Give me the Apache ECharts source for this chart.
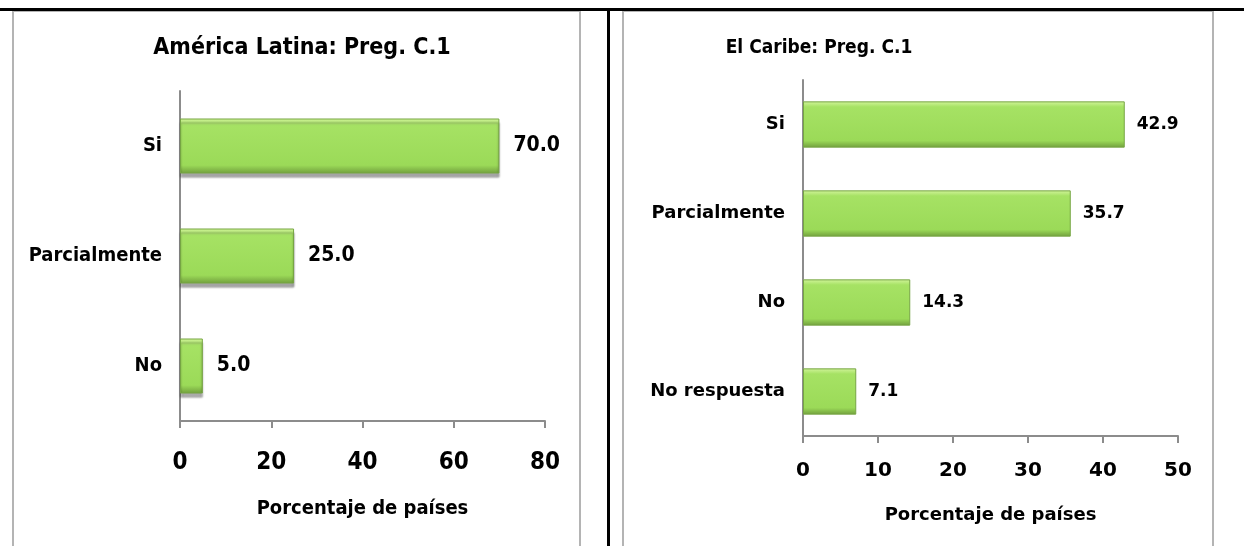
<!DOCTYPE html>
<html>
<head>
<meta charset="utf-8">
<script src="https://cdn.jsdelivr.net/npm/echarts@6/dist/echarts.min.js"></script>
<style>
  html, body { margin: 0; padding: 0; background: #fff; }
  #chart { width: 1244px; height: 546px; }
</style>
</head>
<body>
<div id="chart"></div>
<script>
// data
const latamCategories = ['Si', 'Parcialmente', 'No']
const latamValues = [70.0, 25.0, 5.0]
const caribeCategories = ['Si', 'Parcialmente', 'No', 'No respuesta']
const caribeValues = [42.9, 35.7, 14.3, 7.1]
const latamTitle = 'América Latina: Preg. C.1'
const caribeTitle = 'El Caribe: Preg. C.1'
const axisTitle = 'Porcentaje de países'

const narrow = '"DejaVu Sans Condensed", "Liberation Sans Narrow", sans-serif'
const wide = '"DejaVu Sans", sans-serif'

const barFill = new echarts.graphic.LinearGradient(0, 0, 0, 1, [
  { offset: 0, color: '#d3f59c' },
  { offset: 0.12, color: '#a6e264' },
  { offset: 0.85, color: '#9bda58' },
  { offset: 1, color: '#719f3d' }
])

const axisLine = { show: true, lineStyle: { color: '#8c8c8c', width: 2 } }

const chart = echarts.init(document.getElementById('chart'))
chart.setOption({
  animation: false,
  backgroundColor: '#fff',
  title: [
    {
      text: latamTitle,
      left: 297, top: 32, textAlign: 'center',
      textStyle: { fontFamily: narrow, fontWeight: 'bold', fontSize: 23, color: '#000' }
    },
    {
      text: caribeTitle,
      left: 814, top: 34, textAlign: 'center',
      textStyle: { fontFamily: narrow, fontWeight: 'bold', fontSize: 19, color: '#000' }
    }
  ],
  graphic: [
    { type: 'rect', shape: { x: 13, y: 11, width: 567, height: 560 }, style: { fill: 'none', stroke: '#b4b4b4', lineWidth: 2 } },
    { type: 'rect', shape: { x: 623, y: 11, width: 590, height: 560 }, style: { fill: 'none', stroke: '#b4b4b4', lineWidth: 2 } },
    { type: 'rect', shape: { x: 0, y: 8, width: 1244, height: 3 }, style: { fill: '#000' } },
    { type: 'rect', shape: { x: 607, y: 8, width: 3, height: 540 }, style: { fill: '#000' } }
  ],
  grid: [
    { left: 180, top: 91, width: 365, height: 330 },
    { left: 803, top: 80, width: 375, height: 356 }
  ],
  xAxis: [
    {
      gridIndex: 0, type: 'value', min: 0, max: 80, interval: 20,
      axisLine: axisLine,
      axisTick: { show: true, length: 7, lineStyle: { color: '#8c8c8c', width: 2 } },
      splitLine: { show: false },
      axisLabel: { margin: 30, fontFamily: narrow, fontWeight: 'bold', fontSize: 24, color: '#000' },
      name: axisTitle, nameLocation: 'middle', nameGap: 78,
      nameTextStyle: { fontFamily: narrow, fontWeight: 'bold', fontSize: 20, color: '#000' }
    },
    {
      gridIndex: 1, type: 'value', min: 0, max: 50, interval: 10,
      axisLine: axisLine,
      axisTick: { show: true, length: 7, lineStyle: { color: '#8c8c8c', width: 2 } },
      splitLine: { show: false },
      axisLabel: { margin: 25, fontFamily: wide, fontWeight: 'bold', fontSize: 20, color: '#000' },
      name: axisTitle, nameLocation: 'middle', nameGap: 70,
      nameTextStyle: { fontFamily: wide, fontWeight: 'bold', fontSize: 18, color: '#000' }
    }
  ],
  yAxis: [
    {
      gridIndex: 0, type: 'category', inverse: true, data: latamCategories,
      axisLine: axisLine, axisTick: { show: false },
      axisLabel: { margin: 18, fontFamily: narrow, fontWeight: 'bold', fontSize: 20, color: '#000' }
    },
    {
      gridIndex: 1, type: 'category', inverse: true, data: caribeCategories,
      axisLine: axisLine, axisTick: { show: false },
      axisLabel: { margin: 18, fontFamily: wide, fontWeight: 'bold', fontSize: 18, color: '#000' }
    }
  ],
  series: [
    {
      type: 'bar', xAxisIndex: 0, yAxisIndex: 0, data: latamValues,
      barCategoryGap: '50%',
      itemStyle: {
        color: barFill, borderColor: '#76a543', borderWidth: 1,
        shadowColor: 'rgba(0,0,0,0.35)', shadowBlur: 2, shadowOffsetY: 4
      },
      label: {
        show: true, position: 'right', distance: 14,
        formatter: p => p.value.toFixed(1),
        fontFamily: narrow, fontWeight: 'bold', fontSize: 21, color: '#000'
      }
    },
    {
      type: 'bar', xAxisIndex: 1, yAxisIndex: 1, data: caribeValues,
      barCategoryGap: '48%',
      itemStyle: { color: barFill, borderColor: '#76a543', borderWidth: 1 },
      label: {
        show: true, position: 'right', distance: 12,
        formatter: p => p.value.toFixed(1),
        fontFamily: wide, fontWeight: 'bold', fontSize: 17, color: '#000'
      }
    }
  ]
})
</script>
</body>
</html>
